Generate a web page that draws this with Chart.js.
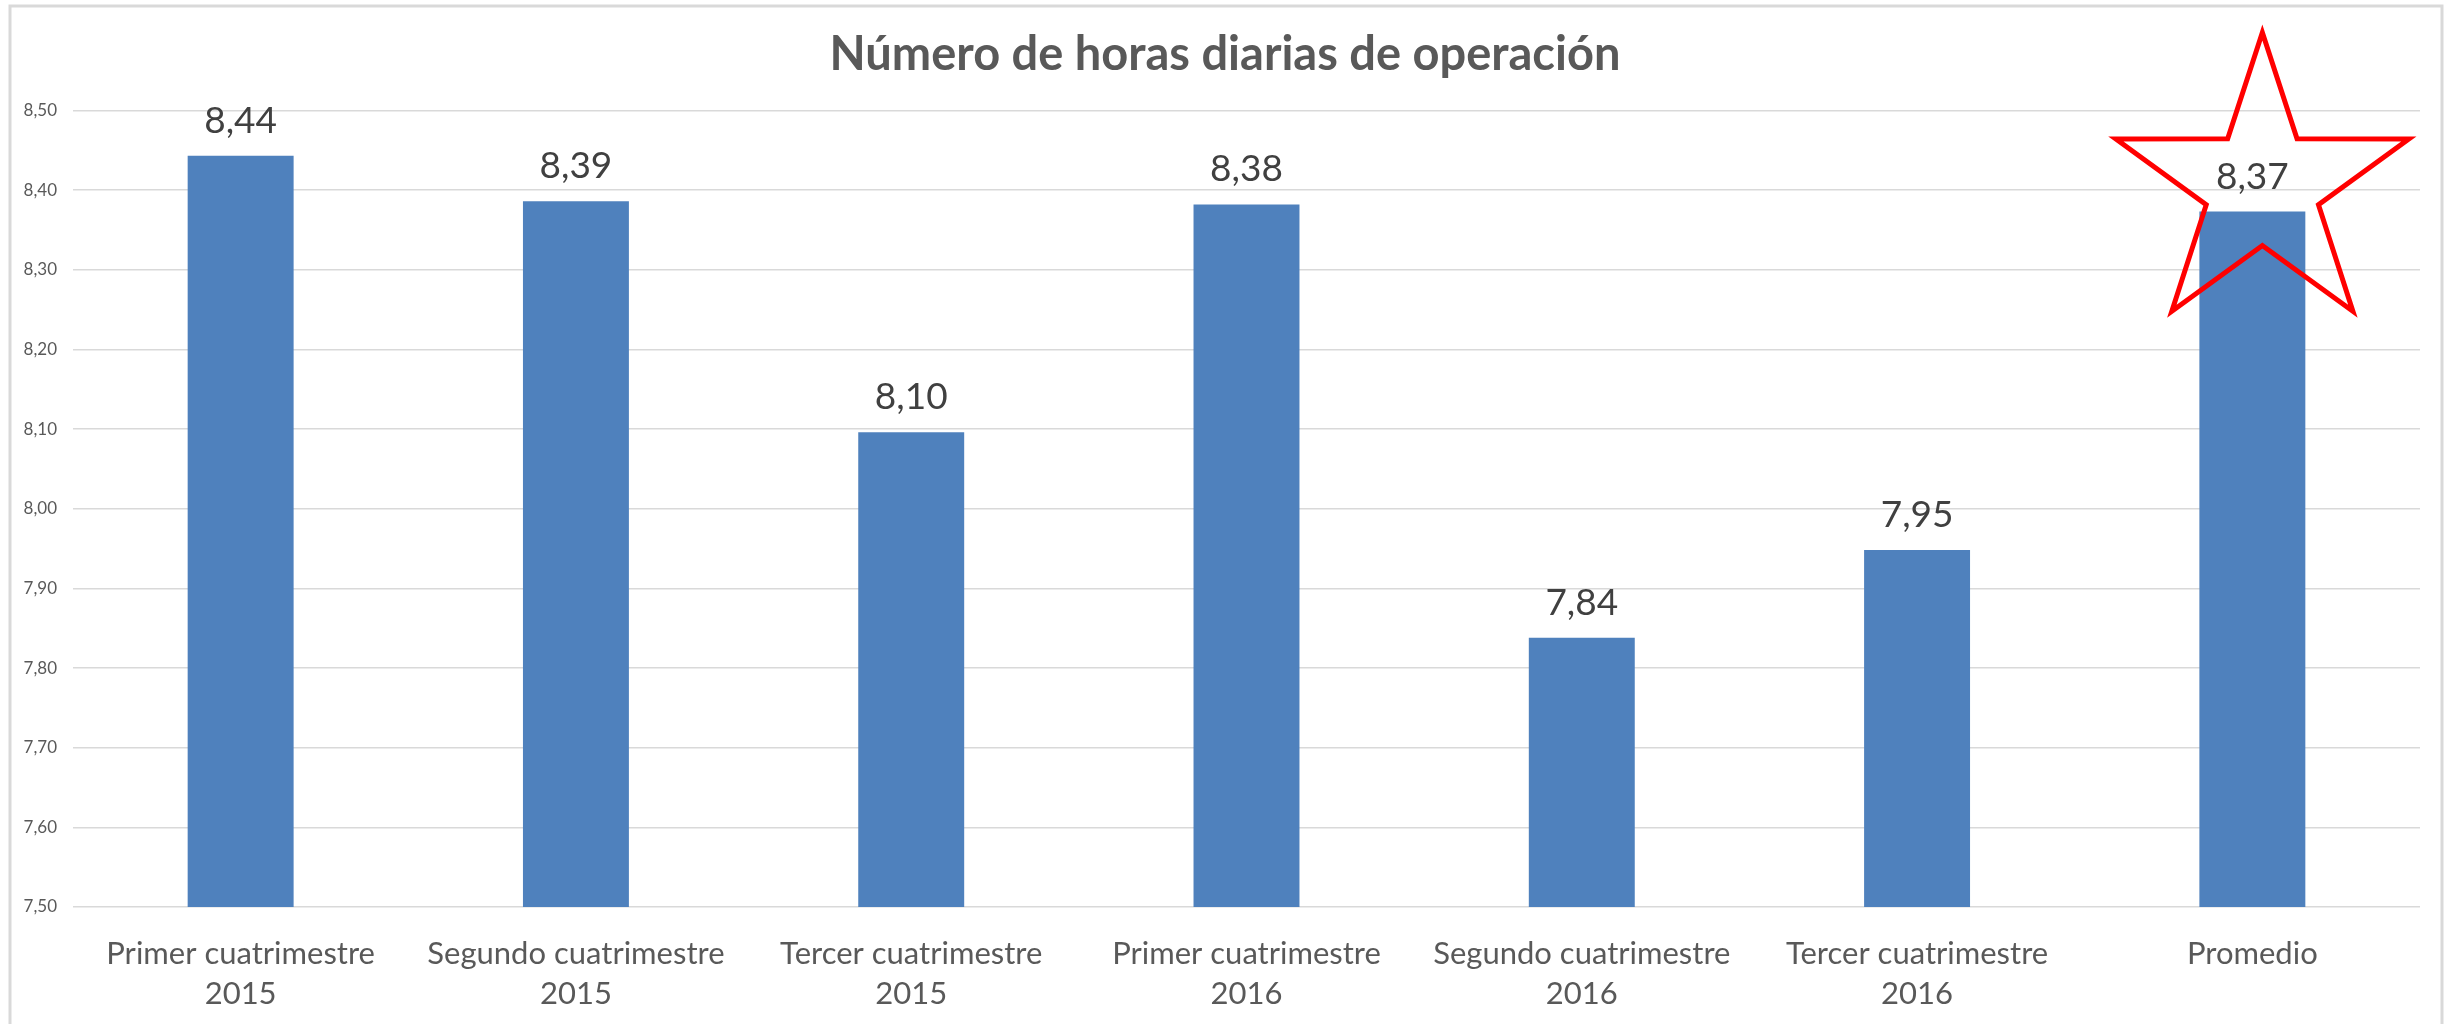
<!DOCTYPE html>
<html>
<head>
<meta charset="utf-8">
<script src="https://cdn.jsdelivr.net/npm/chart.js@4.4.1/dist/chart.umd.min.js"></script>
<style>
  html, body { margin: 0; padding: 0; background: #ffffff; }
  #wrap { position: relative; width: 2450px; height: 1024px; overflow: hidden; }
  canvas { display: block; }
</style>
</head>
<body>
<div id="wrap"><canvas id="c" width="2450" height="1024"></canvas></div>
<script>
// ---- Data ----
const chartTitle = 'Número de horas diarias de operación';
const categories = [
  ['Primer cuatrimestre', '2015'],
  ['Segundo cuatrimestre', '2015'],
  ['Tercer cuatrimestre', '2015'],
  ['Primer cuatrimestre', '2016'],
  ['Segundo cuatrimestre', '2016'],
  ['Tercer cuatrimestre', '2016'],
  ['Promedio']
];
const hours = [8.443, 8.386, 8.096, 8.382, 7.838, 7.948, 8.373];
const yMin = 7.5;
const yMax = 8.5;
const yStep = 0.1;
const highlightIndex = 6; // "Promedio" marked with a star

const fmt = v => v.toFixed(2).replace('.', ',');

const FONT = 'Lato';
const LABEL_GREY = '#595959';

const framePlugin = {
  id: 'frame',
  beforeDraw(chart) {
    const ctx = chart.ctx;
    ctx.save();
    ctx.fillStyle = '#ffffff';
    ctx.fillRect(0, 0, chart.width, chart.height);
    ctx.strokeStyle = '#d9d9d9';
    ctx.lineWidth = 3;
    ctx.strokeRect(10, 6, chart.width - 18, chart.height + 40);
    ctx.restore();
  }
};

const valueLabelPlugin = {
  id: 'valueLabels',
  afterDatasetsDraw(chart) {
    const ctx = chart.ctx;
    const meta = chart.getDatasetMeta(0);
    ctx.save();
    ctx.font = '37px ' + FONT;
    ctx.fillStyle = '#404040';
    ctx.textAlign = 'center';
    ctx.textBaseline = 'middle';
    meta.data.forEach((bar, i) => {
      ctx.fillText(fmt(chart.data.datasets[0].data[i]), bar.x, bar.y - 35);
    });
    ctx.restore();
  }
};

const starPlugin = {
  id: 'star',
  afterDraw(chart) {
    const bar = chart.getDatasetMeta(0).data[highlightIndex];
    if (!bar) return;
    const ctx = chart.ctx;
    const cx = bar.x + 10, cy = bar.y - 25;
    const R = 154, r = 59;
    ctx.save();
    ctx.beginPath();
    for (let k = 0; k < 10; k++) {
      const rad = (k % 2 === 0) ? R : r;
      const ang = -Math.PI / 2 + k * Math.PI / 5;
      const px = cx + rad * Math.cos(ang), py = cy + rad * Math.sin(ang);
      if (k === 0) ctx.moveTo(px, py); else ctx.lineTo(px, py);
    }
    ctx.closePath();
    ctx.lineWidth = 5;
    ctx.lineJoin = 'miter';
    ctx.miterLimit = 10;
    ctx.strokeStyle = '#ff0000';
    ctx.stroke();
    ctx.restore();
  }
};

new Chart(document.getElementById('c'), {
  type: 'bar',
  data: {
    labels: categories,
    datasets: [{
      data: hours,
      backgroundColor: '#4f81bd',
      borderWidth: 0,
      barPercentage: 0.316,
      categoryPercentage: 1.0
    }]
  },
  options: {
    responsive: false,
    devicePixelRatio: 1,
    animation: false,
    layout: { padding: { left: 0, right: 0, top: 0, bottom: 0 } },
    plugins: {
      legend: { display: false },
      tooltip: { enabled: false },
      title: {
        display: true,
        text: chartTitle,
        color: LABEL_GREY,
        font: { family: FONT, size: 47, weight: 'bold', lineHeight: 1.2 },
        padding: { top: 27, bottom: 27 }
      }
    },
    scales: {
      x: {
        grid: { display: false },
        border: { display: false },
        ticks: {
          color: LABEL_GREY,
          font: { family: FONT, size: 31, lineHeight: 1.29 },
          maxRotation: 0,
          autoSkip: false,
          padding: 19
        },
        afterFit(scale) { scale.height = 117; }
      },
      y: {
        min: yMin,
        max: yMax,
        grid: { color: '#d9d9d9', lineWidth: 1.5, drawTicks: false },
        border: { display: false },
        ticks: {
          stepSize: yStep,
          color: LABEL_GREY,
          font: { family: FONT, size: 17 },
          padding: 16,
          callback: v => fmt(v)
        },
        afterFit(scale) { scale.width = 73; }
      },
      spacer: {
        type: 'linear',
        position: 'right',
        grid: { display: false, drawTicks: false },
        border: { display: false },
        ticks: { display: false },
        afterFit(scale) { scale.width = 30; }
      }
    }
  },
  plugins: [framePlugin, valueLabelPlugin, starPlugin]
});
</script>
</body>
</html>
